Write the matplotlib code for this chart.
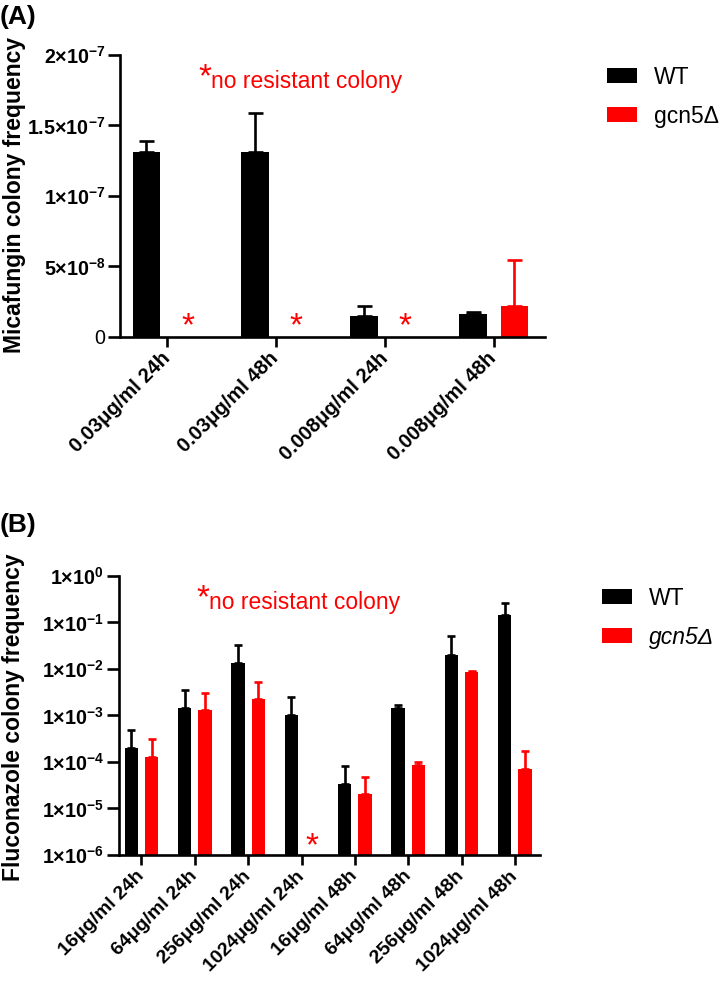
import numpy as np
import matplotlib
matplotlib.use("Agg")
import matplotlib.pyplot as plt

plt.rcParams['font.family'] = ['Liberation Sans', 'DejaVu Sans']
plt.rcParams['mathtext.fontset'] = 'custom'
plt.rcParams['mathtext.rm'] = 'Liberation Sans:bold'
plt.rcParams['mathtext.it'] = 'Liberation Sans:bold'
plt.rcParams['mathtext.bf'] = 'Liberation Sans:bold'

# (A) Micafungin
mica_labels = ['0.03μg/ml 24h', '0.03μg/ml 48h', '0.008μg/ml 24h', '0.008μg/ml 48h']
mica_wt = [1.31e-7, 1.31e-7, 1.52e-8, 1.66e-8]
mica_wt_sd = [0.08e-7, 0.28e-7, 0.66e-8, 0.12e-8]
mica_gcn5 = [np.nan, np.nan, np.nan, 2.2e-8]
mica_gcn5_sd = [np.nan, np.nan, np.nan, 3.25e-8]
mica_ticks = [0, 5e-8, 1e-7, 1.5e-7, 2e-7]
mica_ticklabels = ['0', r'$5{\times}10^{-8}$', r'$1{\times}10^{-7}$', r'$1.5{\times}10^{-7}$', r'$2{\times}10^{-7}$']

# (B) Fluconazole
flu_labels = ['16μg/ml 24h', '64μg/ml 24h', '256μg/ml 24h', '1024μg/ml 24h',
              '16μg/ml 48h', '64μg/ml 48h', '256μg/ml 48h', '1024μg/ml 48h']
flu_wt = [2.0e-4, 1.48e-3, 1.32e-2, 1.03e-3, 3.3e-5, 1.44e-3, 2.03e-2, 1.46e-1]
flu_wt_sd = [2.9e-4, 2.12e-3, 1.95e-2, 1.48e-3, 4.9e-5, 2.5e-4, 2.97e-2, 1.14e-1]
flu_gcn5 = [1.3e-4, 1.3e-3, 2.24e-3, np.nan, 2.03e-5, 8.6e-5, 8.6e-3, 7.1e-5]
flu_gcn5_sd = [1.76e-4, 1.76e-3, 2.94e-3, np.nan, 2.82e-5, 1.2e-5, 6e-4, 9.8e-5]
flu_ticks = [1e-6, 1e-5, 1e-4, 1e-3, 1e-2, 1e-1, 1e0]
flu_ticklabels = [r'$1{\times}10^{-6}$', r'$1{\times}10^{-5}$', r'$1{\times}10^{-4}$', r'$1{\times}10^{-3}$',
                  r'$1{\times}10^{-2}$', r'$1{\times}10^{-1}$', r'$1{\times}10^{0}$']

RED = '#ff0000'
lw = 1.9


def draw_panel(ax, labels, wt, wt_sd, mut, mut_sd, star_y, capsize, label_fs):
    x = np.arange(len(labels))
    off, w = 0.19, 0.25
    ax.bar(x - off, wt, w, color='black', label='WT')
    ax.bar(x + off, mut, w, color=RED, label='gcn5Δ')
    ax.errorbar(x - off, wt, yerr=[np.zeros(len(x)), wt_sd], fmt='none', ecolor='black',
                elinewidth=lw, capsize=capsize, capthick=lw)
    ax.errorbar(x + off, mut, yerr=[np.zeros(len(x)), mut_sd], fmt='none', ecolor=RED,
                elinewidth=lw, capsize=capsize, capthick=lw)
    # asterisks where no resistant colony was found
    for xi, v in zip(x, mut):
        if np.isnan(v):
            ax.text(xi + off, star_y, '*', color=RED, fontsize=24, ha='center', va='center')
    ax.set_xticks(x)
    ax.set_xticklabels(labels, rotation=45, ha='right', va='center', rotation_mode='anchor',
                       fontsize=label_fs, fontweight='bold')
    ax.spines['top'].set_visible(False)
    ax.spines['right'].set_visible(False)
    for s in ['left', 'bottom']:
        ax.spines[s].set_linewidth(lw)
    ax.tick_params(axis='y', length=8.5, width=lw, labelsize=14.2, pad=2)
    ax.tick_params(axis='x', length=7.5, width=lw, pad=6)
    ax.tick_params(axis='y', which='minor', length=0)
    ax.set_xlim(-0.43, len(labels) - 1 + 0.47)
    # "*no resistant colony" note
    ax.text(0.215, 0.92, '*', transform=ax.transAxes, color=RED, fontsize=24, ha='right', va='center')
    ax.text(0.215, 0.905, 'no resistant colony', transform=ax.transAxes, color=RED,
            fontsize=16.5, ha='left', va='center')
    leg = ax.legend(loc='upper left', bbox_to_anchor=(1.125, 0.995), frameon=False, fontsize=16.5,
                    handlelength=1.3, handleheight=0.65, handletextpad=0.75, labelspacing=0.7,
                    borderaxespad=0)
    return leg


fig = plt.figure(figsize=(7.2, 9.89), dpi=100)

axA = fig.add_axes([0.1667, 0.6593, 0.59, 0.2851])
draw_panel(axA, mica_labels, mica_wt, mica_wt_sd, mica_gcn5, mica_gcn5_sd, 0.7e-8, 5.4, 14.5)
axA.set_ylim(0, 2e-7)
axA.set_yticks(mica_ticks)
axA.set_yticklabels(mica_ticklabels)
axA.set_ylabel('Micafungin colony frequency', fontsize=16.5, fontweight='bold')
axA.yaxis.set_label_coords(-0.222, 0.505)
fig.text(0.0, 0.983, '(A)', fontsize=19, fontweight='bold', va='center', ha='left')

axB = fig.add_axes([0.1646, 0.1355, 0.5854, 0.2821])
axB.set_yscale('log')
legB = draw_panel(axB, flu_labels, flu_wt, flu_wt_sd, flu_gcn5, flu_gcn5_sd, 1.5e-6, 3.2, 14)
legB.get_texts()[1].set_style('italic')
axB.set_ylim(1e-6, 1e0)
axB.set_yticks(flu_ticks)
axB.set_yticklabels(flu_ticklabels)
axB.set_ylabel('Fluconazole colony frequency', fontsize=16.5, fontweight='bold')
axB.yaxis.set_label_coords(-0.222, 0.495)
fig.text(0.0, 0.469, '(B)', fontsize=19, fontweight='bold', va='center', ha='left')

fig.savefig('out.png', dpi=100)
